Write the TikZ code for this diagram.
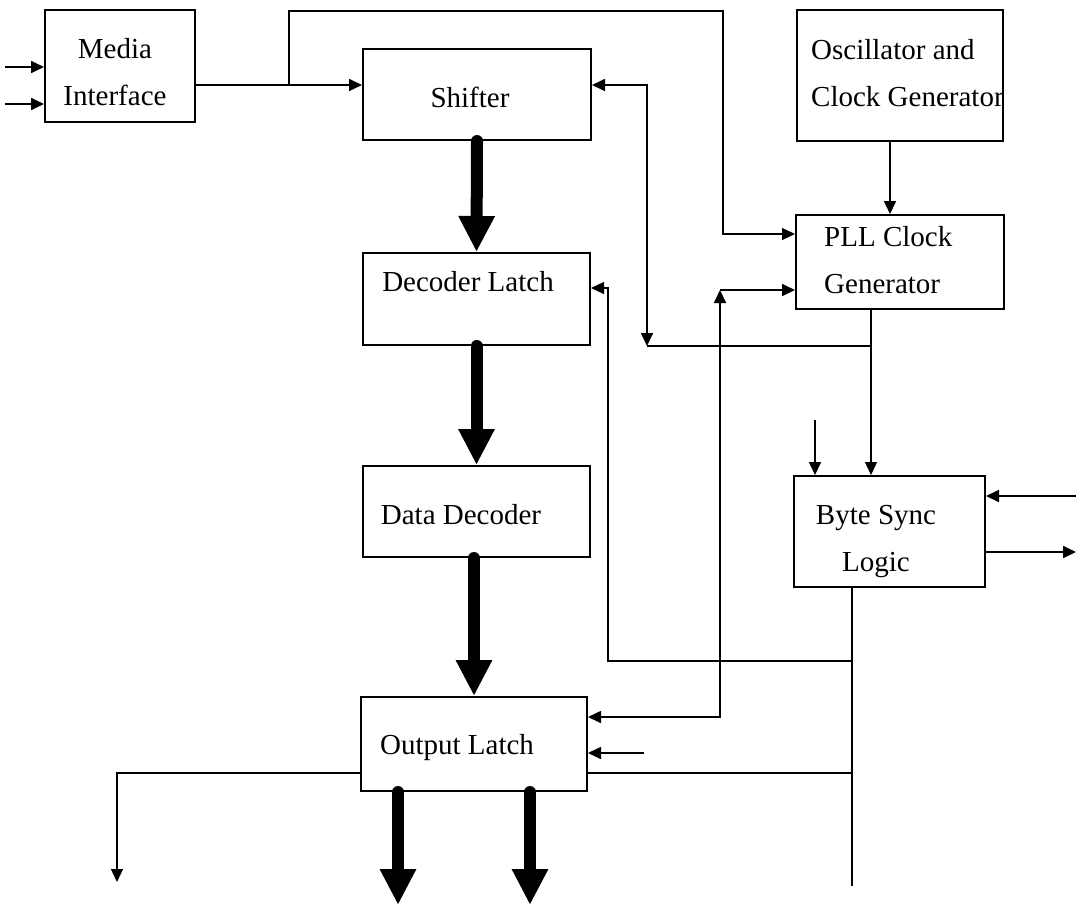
\documentclass[tikz,border=0pt]{standalone}
\usepackage{fontspec}
\setmainfont{Liberation Serif}
\usetikzlibrary{arrows.meta}

\begin{document}
\begin{tikzpicture}[x=1pt,y=-1pt,
 font=\fontsize{29}{47}\selectfont,
 >={Triangle[length=13pt,width=12pt]},
 blk/.style={draw,line width=2pt,inner sep=0pt},
 txt/.style={inner sep=0pt},
 wire/.style={line width=1.7pt},
 fine/.style={line width=1.2pt},
 bus/.style={line width=12pt,line cap=round,-{Triangle[length=36pt,width=34pt]}}]
 \useasboundingbox (0,0) rectangle (1076,907);
 \node[blk,minimum width=150pt,minimum height=112pt] (media) at (120,66) {};
 \node[txt,align=center] (mediaT) at (115,72) {Media\\Interface};
 \node[blk,minimum width=228pt,minimum height=91pt] (shifter) at (477,94.5) {};
 \node[txt] (shifterT) at (470,97) {Shifter};
 \node[blk,minimum width=206pt,minimum height=131pt] (osc) at (900,75.5) {};
 \node[txt,align=left,anchor=west] (oscT) at (811,73) {Oscillator and\\Clock Generator};
 \node[blk,minimum width=208pt,minimum height=94pt] (pll) at (900,262) {};
 \node[txt,align=left,anchor=west] (pllT) at (824,260) {PLL Clock\\Generator};
 \node[blk,minimum width=227pt,minimum height=92pt] (declatch) at (476.5,299) {};
 \node[txt] (declatchT) at (468,282) {Decoder Latch};
 \node[blk,minimum width=227pt,minimum height=91pt] (datadec) at (476.5,511.5) {};
 \node[txt] (datadecT) at (461,515) {Data Decoder};
 \node[blk,minimum width=191pt,minimum height=111pt] (bytesync) at (889.5,531.5) {};
 \node[txt,align=center] (bytesyncT) at (876,542) {Byte Sync\\Logic};
 \node[blk,minimum width=226pt,minimum height=94pt] (outlatch) at (474,744) {};
 \node[txt] (outlatchT) at (457,748) {Output Latch};

 \coordinate (inA) at (5,67);
 \coordinate (inB) at (5,104);
 \coordinate (tap) at (289,85);
 \coordinate (loop) at (723,11);
 \coordinate (pllA) at (0,234);
 \coordinate (osc2pll) at (890,0);
 \coordinate (pllout) at (871,346);
 \coordinate (fbk) at (647,346);
 \coordinate (bsin) at (815,420);
 \coordinate (upc) at (720,290);
 \coordinate (olA) at (0,717);
 \coordinate (dlA) at (608,288);
 \coordinate (dlB) at (852,661);
 \coordinate (bsbot) at (852,886);
 \coordinate (olB) at (852,773);
 \coordinate (drop) at (117,882);
 \coordinate (olin) at (644,753);
 \coordinate (bsR1) at (1076,496);
 \coordinate (bsR2) at (1076,552);
 \coordinate (bus1) at (398,905);
 \coordinate (bus2) at (530,905);

 \draw[wire,->] (inA) -- (media.west |- inA);
 \draw[wire,->] (inB) -- (media.west |- inB);
 \draw[wire,->] (media.east |- tap) -- (shifter.west |- tap);
 \draw[fine,->] (tap) |- (loop) |- (pll.west |- pllA);
 \draw[wire,->] (osc.south -| osc2pll) -- (pll.north -| osc2pll);
 \draw[fine,->] (pll.south -| pllout) -- (bytesync.north -| pllout);
 \draw[fine] (pllout) -- (fbk);
 \draw[wire,<->] (fbk) |- (shifter.east |- tap);
 \draw[wire,->] (bsin) -- (bytesync.north -| bsin);
 \draw[wire,<->] (outlatch.east |- olA) -| (upc);
 \draw[wire,->] (upc) -- (pll.west |- upc);
 \draw[fine] (bytesync.south -| bsbot) -- (bsbot);
 \draw[fine,->] (dlB) -| (dlA) -- (declatch.east |- dlA);
 \draw[fine] (olB) -- (outlatch.east |- olB);
 \draw[fine,->] (outlatch.west |- olB) -| (drop);
 \draw[wire,->] (olin) -- (outlatch.east |- olin);
 \draw[wire,->] (bsR1) -- (bytesync.east |- bsR1);
 \draw[wire,->] (bytesync.east |- bsR2) -- (bsR2);

 \draw[bus] (shifter.south) -- (declatch.north);
 \draw[bus] (declatch.south) -- (datadec.north);
 \draw[bus] (datadec.south -| outlatch.north) -- (outlatch.north);
 \draw[bus] (outlatch.south -| bus1) -- (bus1);
 \draw[bus] (outlatch.south -| bus2) -- (bus2);
\end{tikzpicture}
\end{document}
